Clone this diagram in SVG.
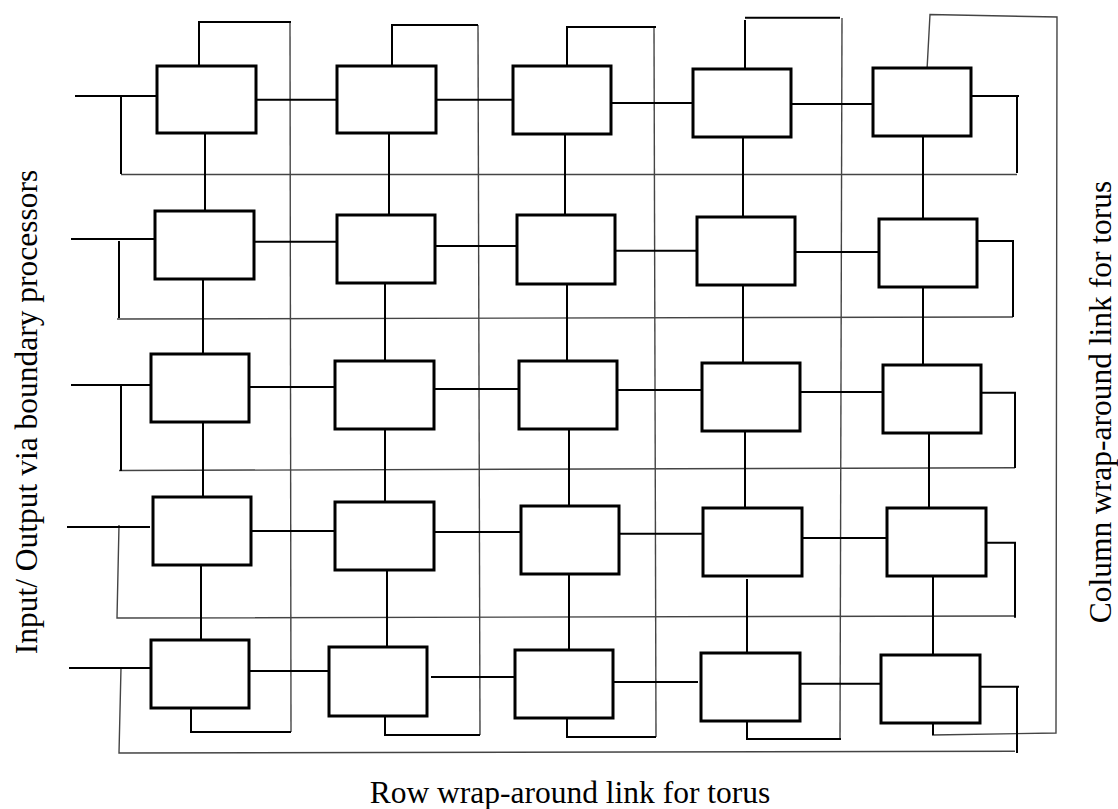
<svg xmlns="http://www.w3.org/2000/svg" width="1118" height="809" viewBox="0 0 1118 809">
<style>
.n{fill:#fff;stroke:#000;stroke-width:3}
.c{fill:none;stroke:#000;stroke-width:2}
.g{fill:none;stroke:#444;stroke-width:1.4}
.t{font-family:"Liberation Serif","Times New Roman",serif;font-size:31.5px;fill:#000}
</style>
<rect width="1118" height="809" fill="#fff"/>
<g id="connectors">
<g class="g">
<path d="M121,174.5 H1017"/>
<path d="M117,319 L1013,317"/>
<path d="M119,470.5 L1015,467.7"/>
<path d="M119,525 L117,618 L1015,616"/>
<path d="M121,668 L119,753 L1015,751.3"/>
<path d="M290,22 L291,732"/>
<path d="M478,25 L480,735"/>
<path d="M654,27 L656,737"/>
<path d="M842,18 L840,739"/>
<path d="M927,70 L930,14.5 L1057,17 L1056,733 L932,735"/>
</g>
<g class="c">
<path d="M75,96 H157 M121,96 V174"/>
<path d="M971,96 H1019 M1017,96 V173"/>
<path d="M71,239 H155 M119,241 V318"/>
<path d="M973,241 H1013 V317"/>
<path d="M71,385 H154 M121,385 V471"/>
<path d="M975,392.7 H1015 V468"/>
<path d="M67,527 H150"/>
<path d="M981,542.7 H1015 V617.7"/>
<path d="M69,668 H150"/>
<path d="M977,686.7 H1019 M1017,686.7 V753"/>
<path d="M256,99.7 H337 M433,99.7 H516 M611,103 H693 M791,104 H873"/>
<path d="M254,241.7 H337 M433,246 H517 M615,250.7 H697 M795,252 H879"/>
<path d="M249,387 H335 M434,389 H519 M617,390 H702 M800,392 H883"/>
<path d="M251,531 H335 M434,532 H521 M619,533.7 H703 M802,538 H887"/>
<path d="M249,671 H332 M431,677 H515 M613,682 H698 M798,683.7 H881"/>
<path d="M205,133 V211 M203,279 V355 M203,422 V497 M201,565 V643"/>
<path d="M389,133 V215 M385,283 V361 M385,429 V504 M387,570 V647"/>
<path d="M565,134 V215 M567,282 V361 M569,429 V509 M569,574 V653"/>
<path d="M743,137 V217 M743,285 V363 M745,432 V512 M747,579 V657"/>
<path d="M923,136 V219 M923,285 V365 M929,430 V508 M933,576 V655"/>
<path d="M199,66 V22 H291 M291,732 H191 V708"/>
<path d="M392,68 V25 H478 M480,735 H384 M385,735 V716"/>
<path d="M567,65 V27 H656 M656,737 H566 M567,737 V718"/>
<path d="M745,71 V20 M745,17.7 H840 M841,739 H746 M747,739 V721"/>
<path d="M933,735 V723"/>
</g>
</g>
<g id="p11"><rect class="n" x="157" y="66" width="99" height="67"/></g>
<g id="p12"><rect class="n" x="337" y="66" width="99" height="67"/></g>
<g id="p13"><rect class="n" x="513" y="66" width="98" height="68"/></g>
<g id="p14"><rect class="n" x="693" y="69" width="98" height="68"/></g>
<g id="p15"><rect class="n" x="873" y="68" width="98" height="68"/></g>
<g id="p21"><rect class="n" x="155" y="211" width="99" height="68"/></g>
<g id="p22"><rect class="n" x="337" y="215" width="98" height="68"/></g>
<g id="p23"><rect class="n" x="517" y="215" width="98" height="69"/></g>
<g id="p24"><rect class="n" x="697" y="217" width="98" height="68"/></g>
<g id="p25"><rect class="n" x="879" y="219" width="98" height="68"/></g>
<g id="p31"><rect class="n" x="151" y="354" width="98" height="68"/></g>
<g id="p32"><rect class="n" x="335" y="361" width="99" height="68"/></g>
<g id="p33"><rect class="n" x="519" y="361" width="98" height="68"/></g>
<g id="p34"><rect class="n" x="702" y="363" width="98" height="68"/></g>
<g id="p35"><rect class="n" x="883" y="365" width="98" height="68"/></g>
<g id="p41"><rect class="n" x="153" y="497" width="98" height="68"/></g>
<g id="p42"><rect class="n" x="335" y="502" width="99" height="68"/></g>
<g id="p43"><rect class="n" x="521" y="506" width="98" height="68"/></g>
<g id="p44"><rect class="n" x="703" y="508" width="99" height="68"/></g>
<g id="p45"><rect class="n" x="887" y="508" width="99" height="68"/></g>
<g id="p51"><rect class="n" x="151" y="640" width="98" height="68"/></g>
<g id="p52"><rect class="n" x="329" y="647" width="98" height="69"/></g>
<g id="p53"><rect class="n" x="515" y="650" width="98" height="68"/></g>
<g id="p54"><rect class="n" x="701" y="653" width="99" height="68"/></g>
<g id="p55"><rect class="n" x="881" y="655" width="99" height="68"/></g>
<g id="labels">
<text class="t" transform="translate(37,412) rotate(-90)" text-anchor="middle">Input/ Output via boundary processors</text>
<text class="t" transform="translate(1111,402) rotate(-90)" text-anchor="middle">Column wrap-around link for torus</text>
<text class="t" x="570" y="803" text-anchor="middle">Row wrap-around link for torus</text>
</g>
</svg>
